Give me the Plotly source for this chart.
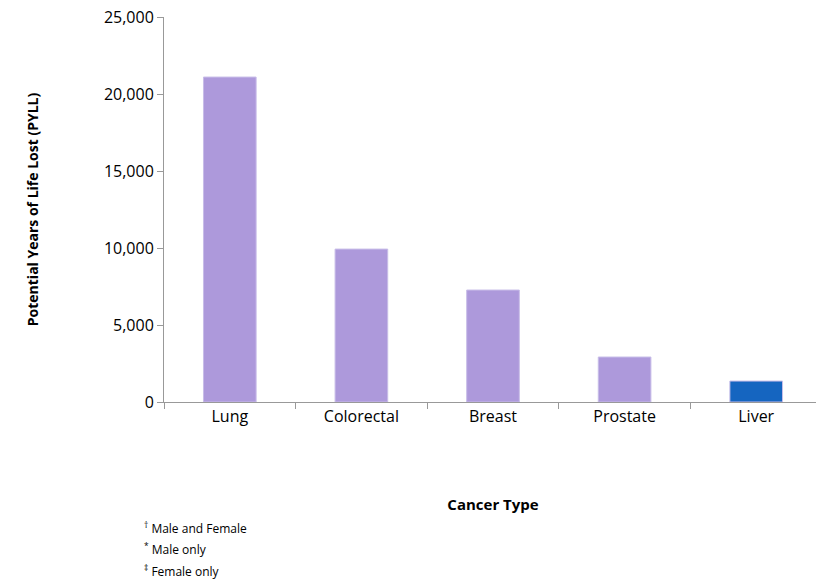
import plotly.graph_objects as go

categories = ["Lung", "Colorectal", "Breast", "Prostate", "Liver"]
pyll = [21100, 9930, 7270, 2920, 1360]
bar_colors = ["#ad99db", "#ad99db", "#ad99db", "#ad99db", "#1565c0"]
y_ticks = [0, 5000, 10000, 15000, 20000, 25000]
footnotes = ["<sup>†</sup> Male and Female", "<sup>*</sup> Male only", "<sup>‡</sup> Female only"]

fig = go.Figure(go.Bar(
    x=categories, y=pyll,
    marker=dict(color=bar_colors, line=dict(color="#c8bde8", width=1)),
))

axis_font = dict(family="Open Sans, DejaVu Sans", size=16, color="#000")
fig.update_layout(
    width=816, height=574,
    margin=dict(l=156, r=2, t=9, b=180, autoexpand=False),
    plot_bgcolor="white", paper_bgcolor="white",
    bargap=0.6, showlegend=False,
    font=axis_font,
    xaxis=dict(
        showline=True, linecolor="#999", ticks="outside", tickson="boundaries",
        tickcolor="#999", ticklen=6, tickfont=axis_font, automargin=False,
        title=dict(text="<b>Cancer Type</b>", font=dict(size=15), standoff=73),
    ),
    yaxis=dict(
        range=[0, 25000], tickvals=y_ticks, tickformat=",", automargin=False,
        showline=True, linecolor="#999", ticks="outside", tickcolor="#999",
        ticklen=6, showgrid=False, zeroline=False, tickfont=axis_font,
        ticklabeloverflow="allow",
        title=dict(text="<b>Potential Years of Life Lost (PYLL)</b>", font=dict(size=14), standoff=62),
    ),
)

for i, note in enumerate(footnotes):
    fig.add_annotation(
        text=note, xref="paper", yref="paper", x=-0.033, y=-0.327 - i * 0.056,
        xanchor="left", yanchor="middle", showarrow=False,
        font=dict(family="Open Sans, DejaVu Sans", size=12, color="#000"),
    )

fig.write_html("out.html")
